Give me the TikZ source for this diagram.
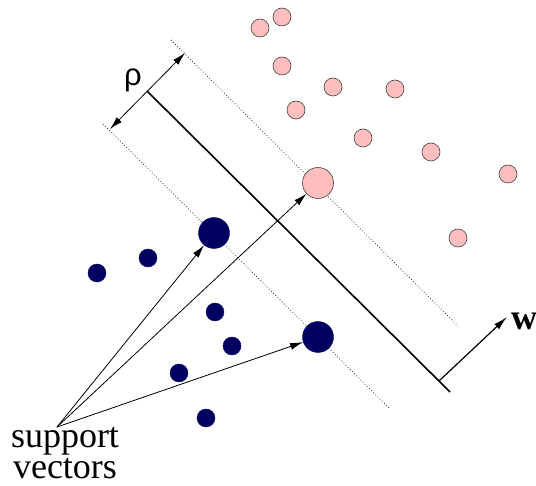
\documentclass[tikz,border=0pt]{standalone}
\usepackage{fontspec}
\setmainfont{Liberation Serif}
\newfontfamily\seriffont{Liberation Serif}
\newfontfamily\rhofont{Liberation Sans}
\usetikzlibrary{arrows.meta}
\definecolor{pinkc}{RGB}{255,190,190}
\definecolor{navyc}{RGB}{0,0,96}
\begin{document}
\begin{tikzpicture}[x=1pt,y=-1pt,
  smalldot/.style={circle,inner sep=0pt,minimum size=18pt},
  bigdot/.style={circle,inner sep=0pt,minimum size=31pt},
  posdot/.style={fill=pinkc,draw=black!75,line width=0.6pt},
  negdot/.style={fill=navyc,draw=navyc},
  marginline/.style={dash pattern=on 0.8pt off 2.2pt,line width=0.8pt,black!80},
  svarrow/.style={line width=0.8pt,-{Latex[length=13pt,width=7pt]}},
  txt/.style={inner sep=0pt}]
\useasboundingbox (0,0) rectangle (536,486);
% margins
\coordinate (u1) at (171,40); \coordinate (u2) at (458,326);
\coordinate (l1) at (103,124); \coordinate (l2) at (389,408);
\draw[marginline] (u1) -- (u2);
\draw[marginline] (l1) -- (l2);
% hyperplane
\coordinate (h1) at (147,91); \coordinate (h2) at (450,392);
\coordinate (wb) at (439,381); \coordinate (wt) at (507,317);
\draw[line width=1.6pt] (h1) -- (h2);
\draw[line width=1.2pt,-{Latex[length=14pt,width=7pt]}] (wb) -- (wt);
\node[txt,anchor=base west,font=\seriffont\bfseries\fontsize{36}{36}\selectfont] (w) at (511,330) {w};
% rho
\coordinate (r1) at (185,53); \coordinate (r2) at (110,129);
\draw[line width=0.8pt,{Latex[length=13pt,width=7pt]}-{Latex[length=13pt,width=7pt]}] (r2) -- (r1);
\node[txt,font=\rhofont\fontsize{31}{31}\selectfont] (rho) at (133,80) {ρ};
% positives
\foreach \n/\x/\y in {p1/260/28,p2/282/17,p3/282/66,p4/333/87,p5/395/89,p6/296/110,p7/363/138,p8/431/152,p9/508/174,p10/458/238}
  \node[smalldot,posdot] (\n) at (\x,\y) {};
\node[bigdot,posdot] (P) at (318,183) {};
% negatives
\foreach \n/\x/\y in {n1/97/273,n2/148/258,n3/215/312,n4/232/346,n5/179/373,n6/206/418}
  \node[smalldot,negdot] (\n) at (\x,\y) {};
\node[bigdot,negdot] (N1) at (214,233) {};
\node[bigdot,negdot] (N2) at (318,337) {};
% support vectors
\coordinate (s) at (57,427);
\draw[svarrow] (s) -- (P);
\draw[svarrow] (s) -- (N1);
\draw[svarrow] (s) -- (N2);
\node[txt,align=center,font=\seriffont\fontsize{36}{31}\selectfont,anchor=north] (lab) at (65,427) {support\\vectors};
\end{tikzpicture}
\end{document}
